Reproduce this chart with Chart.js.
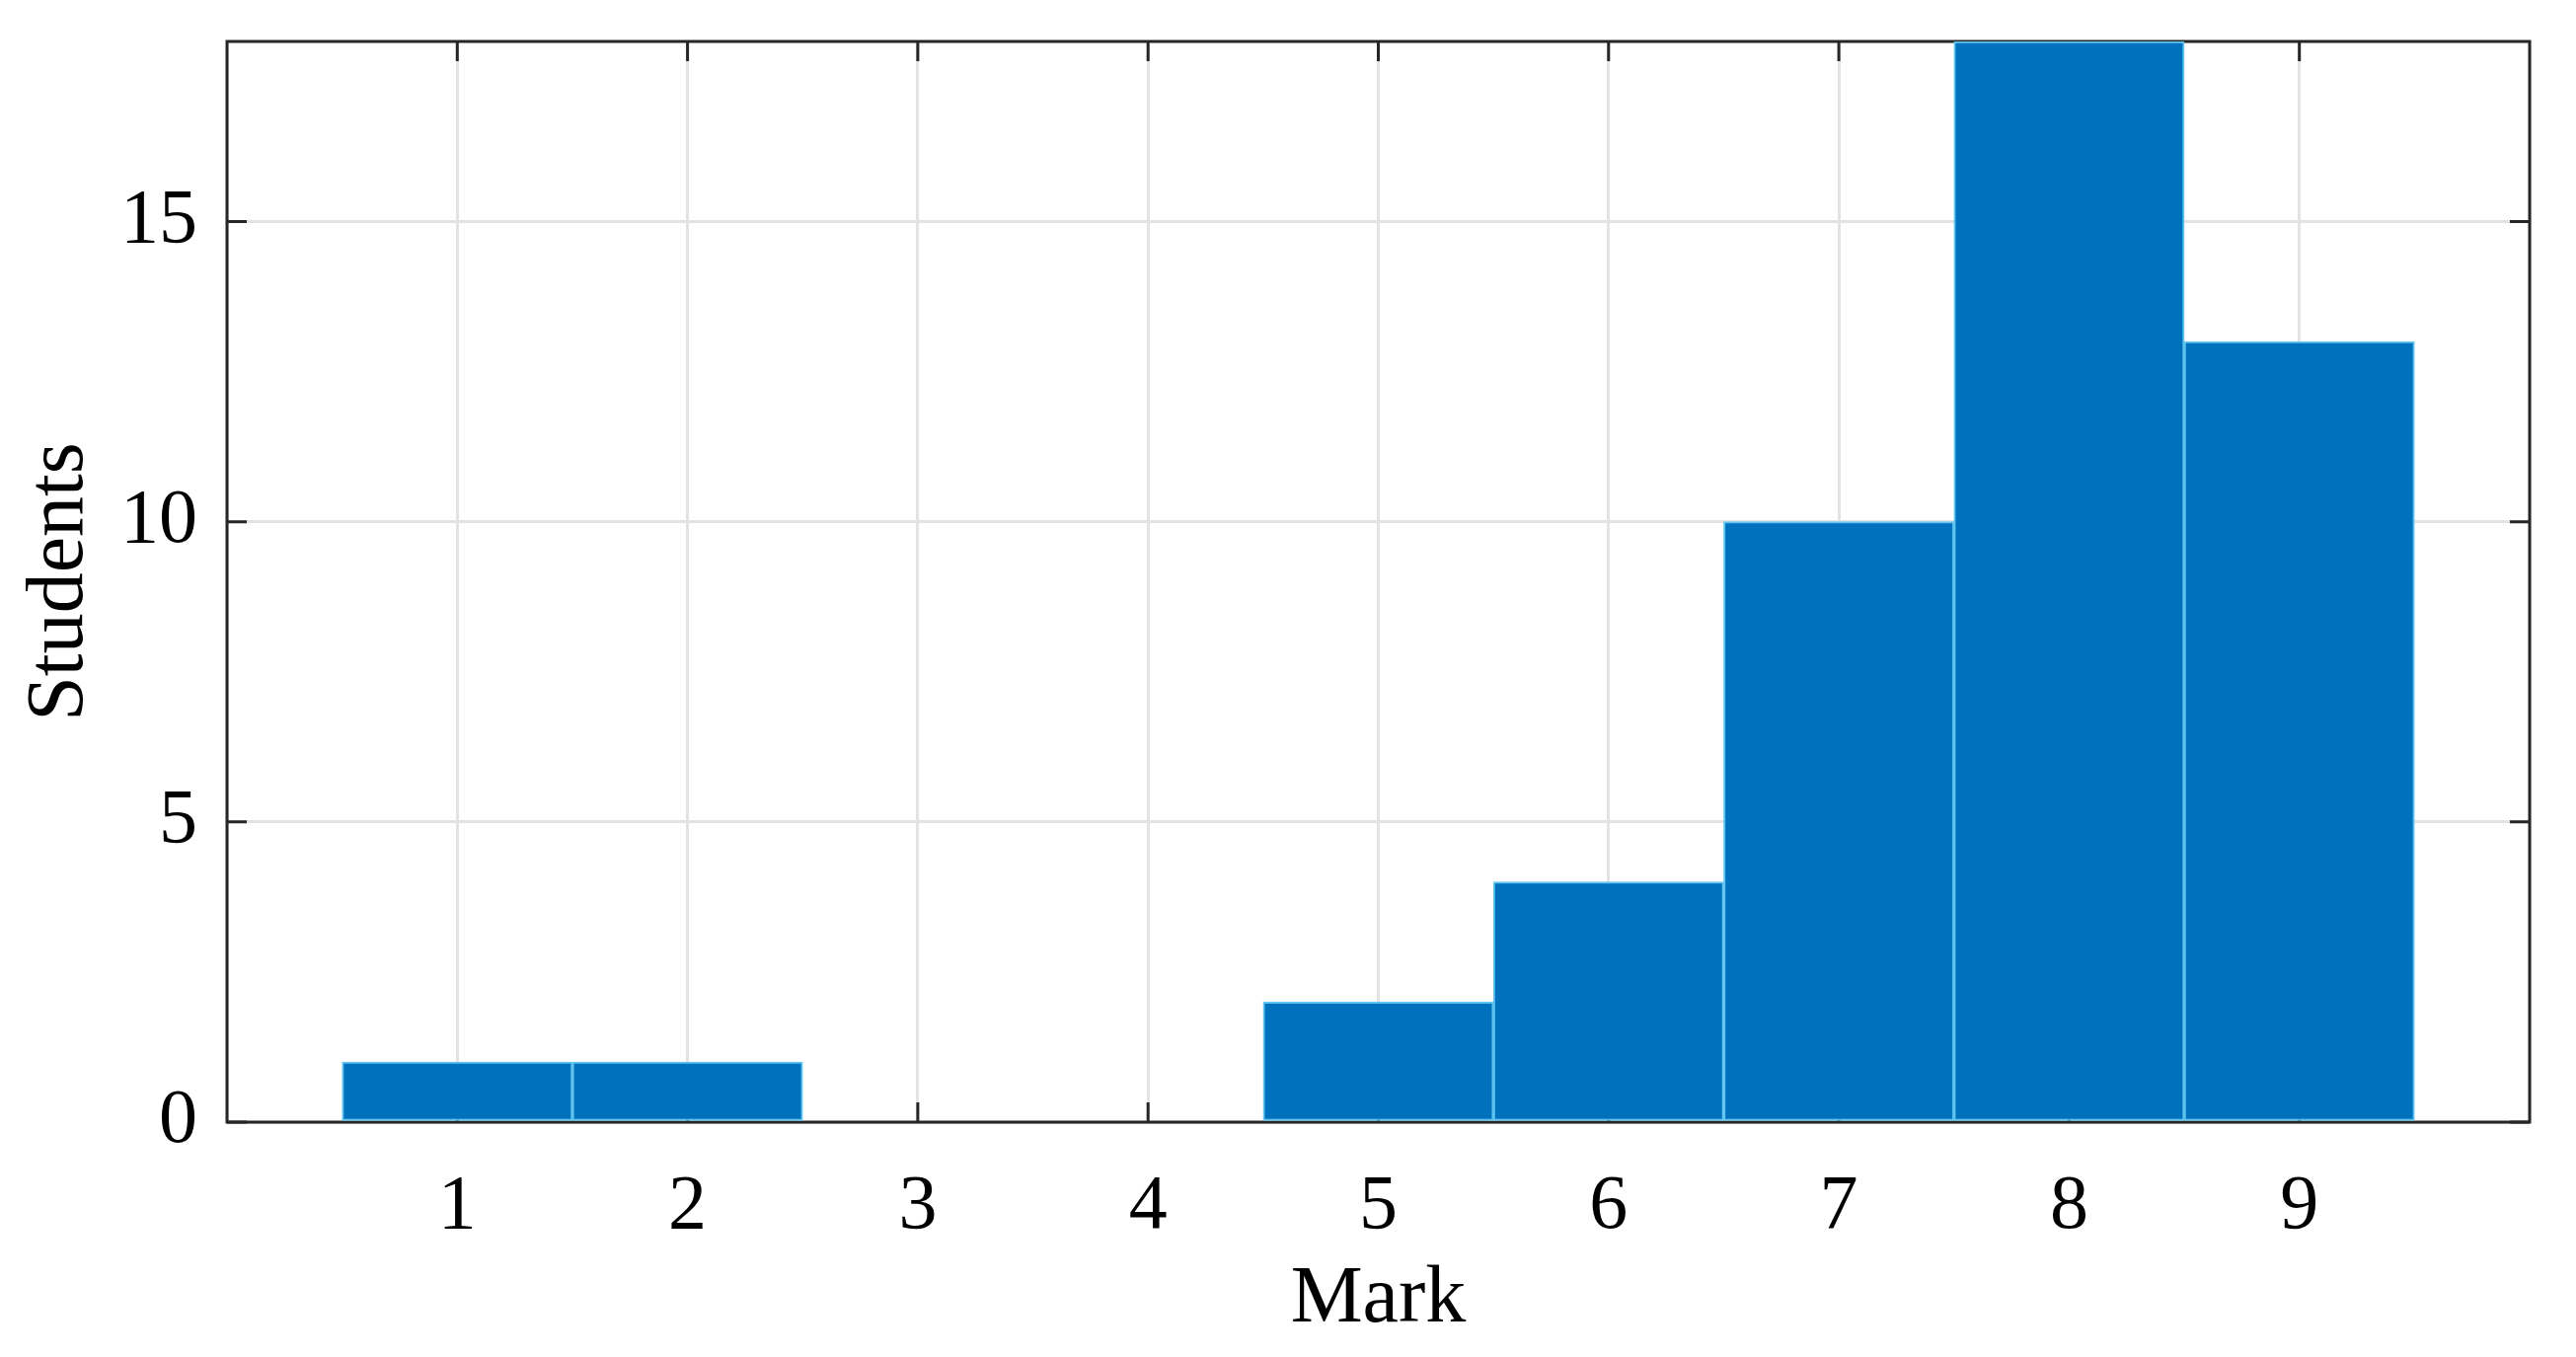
<!DOCTYPE html>
<html>
<head>
<meta charset="utf-8">
<script src="https://cdn.jsdelivr.net/npm/chart.js@4.4.1/dist/chart.umd.min.js"></script>
<style>
  html, body { margin: 0; padding: 0; background: #fff; }
  #wrap { width: 2610px; height: 1375px; }
</style>
</head>
<body>
<div id="wrap"><canvas id="marks"></canvas></div>
<script>
// data
const marks = [1, 2, 3, 4, 5, 6, 7, 8, 9];
const students = [1, 1, 0, 0, 2, 4, 10, 18, 13];
const xTicks = [1, 2, 3, 4, 5, 6, 7, 8, 9];
const yTicks = [0, 5, 10, 15];

// matlab style box with inward ticks
const axesBox = {
    id: 'axesBox',
    beforeDatasetsDraw(chart, args, options) {
        const { ctx, chartArea: { left, top, right, bottom }, scales: { x, y } } = chart;
        const len = options.tickLength;
        ctx.save();
        ctx.strokeStyle = options.color;
        ctx.lineWidth = options.width;
        ctx.strokeRect(left, top, right - left, bottom - top);
        ctx.beginPath();
        xTicks.forEach(v => {
            const px = x.getPixelForValue(v);
            ctx.moveTo(px, bottom); ctx.lineTo(px, bottom - len);
            ctx.moveTo(px, top); ctx.lineTo(px, top + len);
        });
        yTicks.forEach(v => {
            const py = y.getPixelForValue(v);
            ctx.moveTo(left, py); ctx.lineTo(left + len, py);
            ctx.moveTo(right, py); ctx.lineTo(right - len, py);
        });
        ctx.stroke();
        ctx.restore();
    }
};

Chart.defaults.font.family = "'Liberation Serif', 'Times New Roman', serif";
Chart.defaults.color = "#000";

var ctx = document.getElementById('marks');
var myChart = new Chart(ctx, {
    type: 'bar',
    data: {
        datasets: [{
            label: 'Students',
            data: marks.map((m, i) => ({ x: m, y: students[i] })),
            backgroundColor: '#0072BD',
            borderColor: '#5EC3EE',
            borderWidth: 2,
            borderSkipped: false,
            barPercentage: 1,
            categoryPercentage: 1
        }]
    },
    options: {
        responsive: true,
        maintainAspectRatio: false,
        animation: false,
        layout: {
            padding: { left: 0, right: 47, top: 42, bottom: 0 }
        },
        scales: {
            x: {
                type: 'linear',
                min: 0,
                max: 10,
                offset: false,
                border: { display: false },
                grid: { color: '#e3e3e3', lineWidth: 3, drawTicks: false, offset: false },
                ticks: {
                    stepSize: 1,
                    padding: 40,
                    font: { size: 78 },
                    callback: v => xTicks.includes(v) ? v : ''
                },
                title: {
                    display: true,
                    text: 'Mark',
                    font: { size: 82 },
                    padding: { top: 0, bottom: 8 }
                },
                afterFit(scale) { scale.height = 238; scale.paddingLeft = 0; scale.paddingRight = 0; }
            },
            y: {
                min: 0,
                max: 18,
                border: { display: false },
                grid: { color: '#e3e3e3', lineWidth: 3, drawTicks: false },
                ticks: {
                    stepSize: 5,
                    includeBounds: false,
                    padding: 30,
                    font: { size: 78 }
                },
                title: {
                    display: true,
                    text: 'Students',
                    font: { size: 82 },
                    padding: { top: 12, bottom: 0 }
                },
                afterFit(scale) { scale.width = 230; scale.paddingTop = 0; scale.paddingBottom = 0; }
            }
        },
        plugins: {
            legend: { display: false },
            tooltip: { enabled: false },
            axesBox: {
                color: '#262626',
                width: 3,
                tickLength: 20
            }
        }
    },
    plugins: [axesBox]
});
</script>
</body>
</html>
